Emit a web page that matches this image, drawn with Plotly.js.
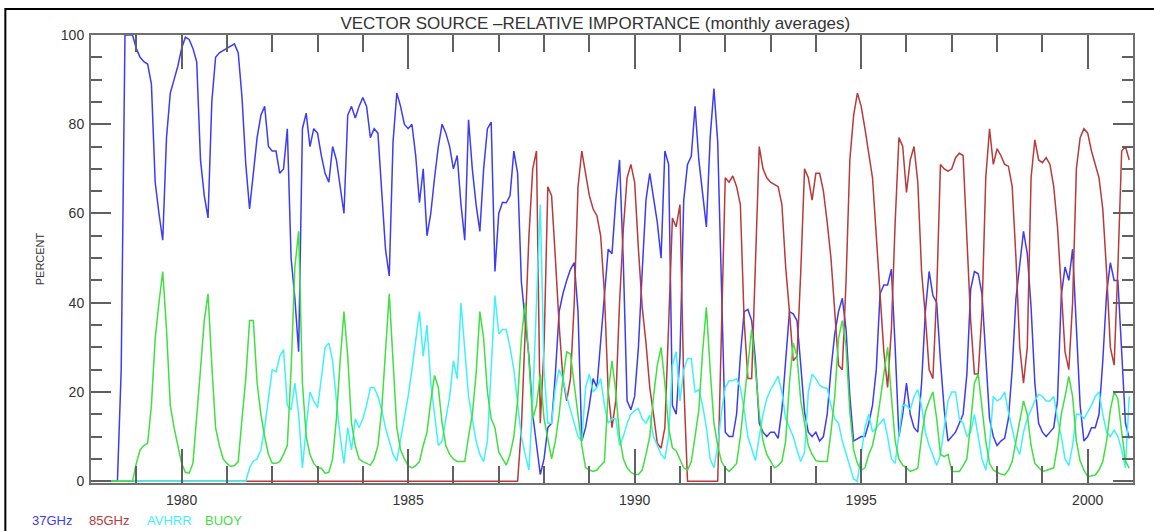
<!DOCTYPE html>
<html>
<head>
<meta charset="utf-8">
<script src="https://cdn.plot.ly/plotly-3.0.1.min.js"></script>
<style>
  html, body { margin: 0; padding: 0; background: #ffffff; }
  #chart { width: 1154px; height: 531px; }
</style>
</head>
<body>
<div id="chart"></div>
<script>
// Monthly values, January 1978 .. December 2000 (12 values per row / year)
const ghz37 = [
  0,0,0,0,0,0,0,0,25,100,100,100,
  97,95,94,93.5,89,67,60,54,77,87,90,93,
  97,99.5,99,97,94,72,64,59,85,95,96,96.5,
  97,97.5,98,96,86,71,61,69,77,82,84,75,
  74,74,69,70,79,50,41,29,79,82.5,75,79,
  78,73,69,67,75,72,66,60,82,84,81.4,84,
  86,84,77,79,78,65,52,46,76,87,84,80,
  79,80,73,62.4,70,55,60,68,75,80,78,75,
  70,73,62,54,81,70,62,56,70,79,80.5,47,
  60,62.5,62.4,64,74,69,44.6,36,28,15,8,1.5,
  5,12,13,24,38,42,45,47.5,49,38,9,12,
  17,23,21,32,43,52,51,63,72,49,18,16,
  19,30,47,63,69,63,58,50,74,71,17,15,
  28,63,71,72.8,84,72,65,57,77,88,76,45,
  11,10,10,15,28,38,38.5,36,27,13,11,10,
  11,11,9.6,16,28,38,37.5,36,26,15.5,11,10,
  11,9,10,15,25,33,38,41,34,19,9,9.5,
  10,10,13,17,25,42,44,44,47.5,30,10,15,
  22,15,12,11,22,38,47,41.6,40,27,16,9,
  10,11,13,15,24,43,47,46.5,42,28,14,10,
  8,9,9.6,14,25,41,49,56,51,39,22,13,
  11,10,11,12,18,41.6,48,45,52,34,17,9,
  10,12,12,15,27,42,49,45,45,29,13,9.6
];
const ghz85 = [
  0,0,0,0,0,0,0,0,0,0,0,0,
  0,0,0,0,0,0,0,0,0,0,0,0,
  0,0,0,0,0,0,0,0,0,0,0,0,
  0,0,0,0,0,0,0,0,0,0,0,0,
  0,0,0,0,0,0,0,0,0,0,0,0,
  0,0,0,0,0,0,0,0,0,0,0,0,
  0,0,0,0,0,0,0,0,0,0,0,0,
  0,0,0,0,0,0,0,0,0,0,0,0,
  0,0,0,0,0,0,0,0,0,0,0,0,
  0,0,0,0,0,0,12,32,55,70,74,13,
  30,66,64,50,35,23,18,23,40,66,74,69,
  64,61,59.5,55,42,20,12,18,40,56.5,68,71,
  67,52,39,31,21,15,8.5,7.4,12,35,59,57,
  62,22,0,0,0,0,0,0,0,0,0,34,
  68,67,68.4,66,62,36,23,23,47,75,70,68,
  67,66.5,66,62,48,38,27,28,47,70,68,63,
  69,69,65,58,50,38,26,25,45,72,82,87,
  84,79,74,68,55,42,29,21,34,58,77,75,
  64.7,72,75,67,47,37,25,23,42,71,70,69.5,
  70,72.5,73.5,73,56,36,24,24,38,68,79,71,
  74.5,73,71,70.6,66,50,30,22,30,68,76.5,72,
  71.4,72.5,71,66,57,41.6,29,25,40,70,77,79,
  78,74,71,68,61,47,30,26,48,74,75,72
];
const avhrr = [
  0,0,0,0,0,0,0,0,0,0,0,0,
  0,0,0,0,0,0,0,0,0,0,0,0,
  0,0,0,0,0,0,0,0,0,0,0,0,
  0,0,0,0,0,0,3,4.5,5,7,12,19,
  25,24.5,28,29.5,17,16,22,15,3,12,20,18,
  16.5,23,30,31,27,18,10,4,12,7,14,12,
  14,17,21,21,19,16,12,9,6,4.5,9.5,14,
  19,25,32,38,28,35,22,15.5,8,9,14,19,
  27,23,40,30,19,14,9,6,4.4,9,26,41.6,
  33,34,34,30,25,17,10,6,2.5,18,38,62,
  25,13,13,21,25,23,19,16,13,10,9,21,
  24,20,21,23,17,13,14,14,8,10,13,15,
  15.8,16.3,14,13,14.8,10,8,6,5,10,26,29,
  18,25,27.5,27.5,20,20.5,17,12,5,3,8,15.5,
  21,22.5,22.5,23,21,16,10,7.4,4.6,10,15,18.5,
  20.5,22,23.5,20,14,12,10,7,4.4,6.5,20,24,
  23,21.5,21,20.8,17,14,13,9,6,3,0.5,0,
  6,12,15,11,12,13,14,10,5,4,11,17,
  17,16,19,20.5,17,11,8,5.5,3.5,6,12,18,
  20,20,14,13,10,11,15,10,5,2.5,8,19,
  18,18.5,20,15.5,12,8,6,11,14,16,18,19.5,
  19,18,18,19,14,10,5,3.5,8,15,15,14,
  15.5,17,19,20,15,11,10,11.5,10,7,3,19
];
const buoy = [
  0,0,0,0,0,0,0,0,0,0,0,0,
  4,7,8,8.5,17,32,40,47,34,17,12,8,
  4,2,1.8,4,14,25,36,42,26,12,8,5,
  4,3.3,3.5,4.4,14,23,36,36,22,15,10,6,
  4,4,4.4,6,8,25,48,56,22,10,6,4,
  3,2.9,1.8,2,5,14,27,38,28,13,8,5,
  4.4,4,3.6,5,8,16,29,42,27,12,7,5,
  3.5,3,3.5,4.4,8,11,18,23.7,21,13,8,6,
  5,4.4,4.4,4.4,10,15,24,38,32,20,14,12,
  6.5,5,3.6,6,10,18,32,40,28,14,17,24,
  14,9,5,9,15,23,29,28.5,22,15.5,8,3,
  2.5,2.2,2.5,3.5,4.4,20,27,20,10,5,3,2,
  1.5,1.5,2.5,6,10,19,26,30,22,12,7.5,6.8,
  5,3,2.5,4.4,10,16,29,39,25,13,8,4.4,
  3,2.2,3,4,10,18,26,34,25,15,9,6,
  4.5,3,3.5,4.4,9,22,31,28,18,13,8,6,
  4.6,4.4,4.4,4.4,11,19,32,36,30,15.5,7,4,
  2.5,3,6,8,12,18,24,30,19,9,5,3.6,
  3,2.2,2.5,2.9,10,15.5,18,20,14,6,5.5,6,
  2.2,2.2,2.2,3.5,5,13,22,24,17,9,4,2.5,
  2,1.6,1.4,2.5,4.4,9,13.3,18,15,8,4,3,
  2.2,2.4,2.7,3,8,15,19,23.5,19,9,4.5,2.5,
  1,1.2,1.4,2.5,4.4,9,16,20,18.5,11,4.5,2.9
];

const seriesNames = ['37GHz', '85GHz', 'AVHRR', 'BUOY'];
const seriesColors = ['#3c3cf5', '#b83a3a', '#3ef2f8', '#3fe03f'];
const xTickVals = [1980, 1985, 1990, 1995, 2000];
const xTickText = ['1980', '1985', '1990', '1995', '2000'];
const yTickVals = [0, 20, 40, 60, 80, 100];
const yTickText = ['0', '20', '40', '60', '80', '100'];
const startYear = 1978;

// time axis: one point per month
const months = ghz37.map((_, i) => startYear + i / 12);

const allValues = [ghz37, ghz85, avhrr, buoy];
const traces = allValues.map((vals, k) => ({
  type: 'scatter',
  mode: 'lines',
  name: seriesNames[k],
  x: months,
  y: vals,
  line: { color: seriesColors[k], width: 1.5 },
  hoverinfo: 'x+y+name'
}));

const tickFont = { family: 'Liberation Sans, Arial, sans-serif', size: 14, color: '#333333' };

const legendAnn = [
  { text: seriesNames[0], x: -0.0585 },
  { text: seriesNames[1], x: -0.0035 },
  { text: seriesNames[2], x: 0.0518 },
  { text: seriesNames[3], x: 0.1075 }
].map((a, k) => ({
  xref: 'paper', yref: 'paper', x: a.x, y: -0.083,
  xanchor: 'left', yanchor: 'middle', showarrow: false,
  text: a.text,
  font: { family: 'Liberation Sans, Arial, sans-serif', size: 13, color: seriesColors[k] }
}));

const layout = {
  width: 1154, height: 531,
  margin: { l: 91, r: 21, t: 35, b: 48, pad: 0 },
  paper_bgcolor: '#ffffff', plot_bgcolor: '#ffffff',
  showlegend: false,
  title: {
    text: 'VECTOR SOURCE \u2013RELATIVE IMPORTANCE (monthly averages)',
    font: { family: 'Liberation Sans, Arial, sans-serif', size: 17, color: '#333333' },
    x: 0.484, xanchor: 'center', xref: 'paper',
    y: 0.957, yanchor: 'middle', yref: 'container'
  },
  xaxis: {
    range: [1978, 2001],
    tickmode: 'array', tickvals: xTickVals, ticktext: xTickText,
    ticks: 'inside', ticklen: 34, tickwidth: 2, tickcolor: '#606060',
    minor: { tickmode: 'linear', tick0: 1978, dtick: 1, ticks: 'inside', ticklen: 17, tickwidth: 2, tickcolor: '#606060', showgrid: false },
    showline: true, linecolor: '#707070', linewidth: 2, mirror: 'allticks',
    showgrid: false, zeroline: false,
    tickfont: tickFont,
    ticklabelstandoff: 3
  },
  yaxis: {
    range: [-0.4, 100],
    tickmode: 'array', tickvals: yTickVals, ticktext: yTickText,
    ticks: 'inside', ticklen: 20, tickwidth: 2, tickcolor: '#606060',
    minor: { tickmode: 'linear', tick0: 0, dtick: 5, ticks: 'inside', ticklen: 11, tickwidth: 2, tickcolor: '#606060', showgrid: false },
    showline: true, linecolor: '#707070', linewidth: 2, mirror: 'allticks',
    showgrid: false, zeroline: false,
    tickfont: tickFont,
    ticklabelstandoff: 2,
    title: { text: 'PERCENT', font: { family: 'Liberation Sans, Arial, sans-serif', size: 11, color: '#333333' }, standoff: 14 }
  },
  annotations: legendAnn,
  shapes: [{
    type: 'rect', xref: 'paper', yref: 'paper',
    x0: -0.0822, x1: 1.05, y0: -0.15, y1: 1.058,
    line: { color: '#000000', width: 2 }, fillcolor: 'rgba(0,0,0,0)', layer: 'above'
  }]
};

Plotly.newPlot('chart', traces, layout, { displayModeBar: false, staticPlot: true });
</script>
</body>
</html>
